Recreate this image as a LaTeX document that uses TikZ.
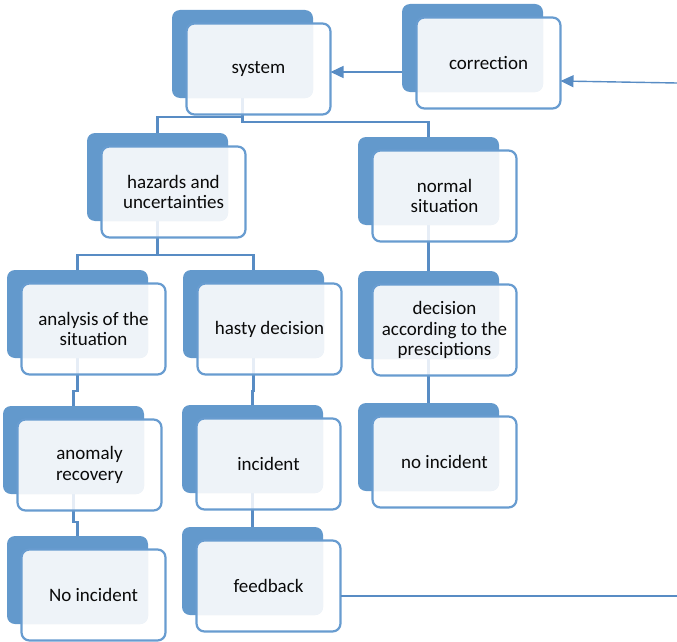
\documentclass[tikz,border=0pt]{standalone}
\usepackage{fontspec}
\setmainfont{Carlito}
\usetikzlibrary{arrows.meta,calc}
\pgfdeclarelayer{bg}
\pgfsetlayers{bg,main}
\definecolor{dk}{RGB}{99,153,204}
\definecolor{ol}{RGB}{104,156,208}
\definecolor{lt}{RGB}{238,243,248}
\definecolor{cn}{RGB}{88,140,196}
\definecolor{tx}{RGB}{10,10,10}
\tikzset{
  darkbox/.style={shape=rectangle, anchor=north west, minimum width=141pt, minimum height=88pt,
    inner sep=0pt, outer sep=0pt, fill=dk, rounded corners=8pt},
  outbox/.style={shape=rectangle, anchor=north west, minimum width=144pt, minimum height=91pt,
    inner sep=0pt, outer sep=0pt, fill=white, fill opacity=0.85, rounded corners=8pt},
  outline/.style={draw=ol, line width=2.2pt, rounded corners=8pt},
  txt/.style={align=center, text=tx, font=\fontsize{19}{20.5}\selectfont, inner sep=0pt},
  conn/.style={draw=cn, line width=2.4pt},
  arr/.style={draw=cn, line width=1.4pt, -{Triangle[length=13pt,width=12pt]}},
  plain/.style={draw=cn, line width=1.8pt},
}
\newcommand\mkbox[4]{%
  \node[darkbox] (#1-d) at (#2,#3) {};
  \node[outbox] (#1) at (#2+14.5,#3+13.5) {};
  \begin{scope}
    \clip[rounded corners=8pt] (#1.north west) rectangle (#1.south east);
    \fill[lt, rounded corners=8pt] (#1-d.north west) rectangle (#1-d.south east);
  \end{scope}
  \draw[outline] (#1.north west) rectangle (#1.south east);
  \node[txt] (#1-t) at (#1.center) {#4};
}
\begin{document}
\begin{tikzpicture}[x=1pt,y=-1pt]
\useasboundingbox (0,0) rectangle (677,642);
\mkbox{sys}{172}{10}{system}
\mkbox{corr}{402}{4}{correction}
\mkbox{haz}{87}{133}{hazards and\\uncertainties}
\mkbox{norm}{358}{137}{normal\\situation}
\mkbox{ana}{7}{270}{analysis of the\\situation}
\mkbox{hasty}{183}{270}{hasty decision}
\mkbox{dec}{358}{271}{decision\\according to the\\presciptions}
\mkbox{anom}{3}{406}{anomaly\\recovery}
\mkbox{inc}{182}{405}{incident}
\mkbox{noiR}{358}{403}{no incident}
\mkbox{noiL}{7}{536}{No incident}
\mkbox{fb}{182}{527}{feedback}
\coordinate (rtop) at (677,83);
\coordinate (rbot) at (677,596);
\begin{pgfonlayer}{bg}
  \draw[conn] (sys-d.south) -- ++(0,19) -| (haz-d.north);
  \draw[conn] (sys-d.south) -- ++(0,24) -| (norm-d.north);
  \draw[conn] (haz-d.south) -- ++(0,34) -| (ana-d.north);
  \draw[conn] (haz-d.south) -- ++(0,34) -| (hasty-d.north);
  \draw[conn] (ana-d.south) -- ++(0,33) -| (anom-d.north);
  \draw[conn] (hasty-d.south) -- ++(0,33) -| (inc-d.north);
  \draw[conn] (anom-d.south) -- ++(0,28) -| (noiL-d.north);
  \draw[conn] (inc-d.south) -- (fb-d.north);
  \draw[conn] (norm-d.south) -- (dec-d.north);
  \draw[conn] (dec-d.south) -- (noiR-d.north);
\end{pgfonlayer}
\draw[arr] (corr-d.west |- 0,72) -- (sys.east |- 0,72);
\draw[arr] (rtop) -- (corr.east |- 0,81);
\draw[plain] (fb.east |- 0,596) -- (rbot);
\end{tikzpicture}
\end{document}
